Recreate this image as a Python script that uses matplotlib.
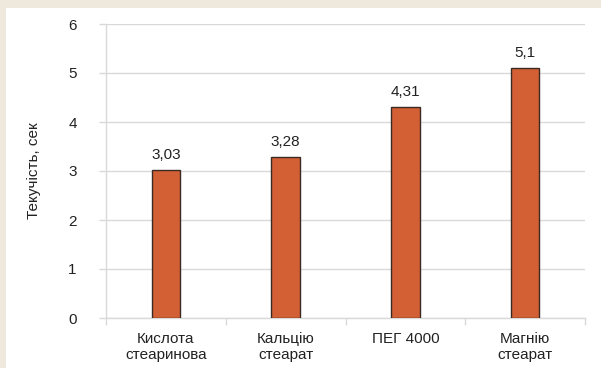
import matplotlib
matplotlib.use("Agg")
import matplotlib.pyplot as plt
from matplotlib.patches import Rectangle

plt.rcParams['font.family'] = ['Liberation Sans', 'DejaVu Sans']

categories = ["Кислота\nстеаринова", "Кальцію\nстеарат", "ПЕГ 4000", "Магнію\nстеарат"]
values = [3.03, 3.28, 4.31, 5.1]
value_labels = ["3,03", "3,28", "4,31", "5,1"]
y_ticks = [0, 1, 2, 3, 4, 5, 6]

FS = 11
W, H = 601, 368
fig = plt.figure(figsize=(W / 100, H / 100), dpi=100)
fig.patch.set_facecolor("#EFE8DC")
panel = Rectangle((6 / W, 0), 1 - 6 / W, 1 - 8 / H, transform=fig.transFigure,
                  facecolor="white", edgecolor="none", zorder=-10)
fig.add_artist(panel)

ax = fig.add_axes([106 / W, 50 / H, (585 - 106) / W, (318 - 24) / H])
ax.set_zorder(1)
ax.set_facecolor("white")

x = list(range(len(categories)))
bars = ax.bar(x, values, width=0.24, color="#D35F35", edgecolor="#3a2a22", linewidth=1.0, zorder=3)

for xi, v, lab in zip(x, values, value_labels):
    ax.annotate(lab, (xi, v), xytext=(0, 8), textcoords="offset pixels",
                ha="center", va="bottom", fontsize=FS, color="#222222")

ax.set_xlim(-0.5, len(categories) - 0.5)
ax.set_ylim(0, 6)
ax.set_yticks(y_ticks)
ax.set_yticklabels([str(t) for t in y_ticks])
ax.yaxis.grid(True, color="#D9D9D9", linewidth=1.0, zorder=0)
ax.set_axisbelow(True)

ax.set_xticks([i + 0.5 for i in range(-1, len(categories))])
ax.set_xticklabels([])
ax.set_xticks(x, minor=True)
ax.set_xticklabels(categories, minor=True, fontsize=FS, color="#222222", linespacing=1.15)
ax.tick_params(axis="x", which="minor", length=0, pad=10)
ax.tick_params(axis="x", which="major", length=5, color="#D9D9D9", width=1.0)
ax.tick_params(axis="y", length=5, color="#D9D9D9", width=1.0, pad=16, labelsize=FS, labelcolor="#222222")

for s in ("top", "right"):
    ax.spines[s].set_visible(False)
for s in ("left", "bottom"):
    ax.spines[s].set_color("#D9D9D9")
    ax.spines[s].set_linewidth(1.0)

ax.set_ylabel("Текучість, сек", fontsize=FS, color="#222222", labelpad=20)

fig.savefig("out.png", dpi=100, facecolor=fig.get_facecolor())
